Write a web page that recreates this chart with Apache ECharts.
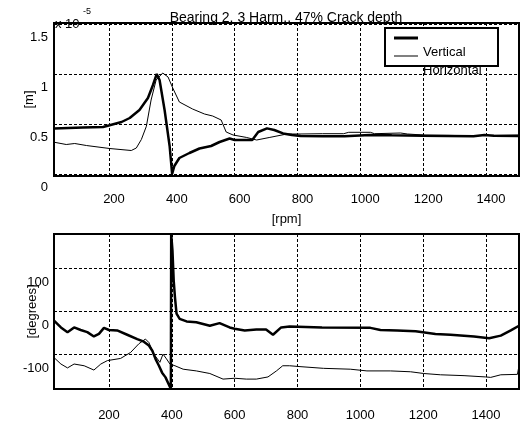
<!DOCTYPE html>
<html>
<head>
<meta charset="utf-8">
<script src="https://cdn.jsdelivr.net/npm/echarts@6/dist/echarts.min.js"></script>
<style>
  html, body { margin: 0; padding: 0; background: #fff; }
  #chart { width: 520px; height: 424px; }
</style>
</head>
<body>
<div id="chart"></div>
<script>
// Tick positions
const rpmTicks = [200, 400, 600, 800, 1000, 1200, 1400];
const ampTicks = [0, 0.5, 1, 1.5];
const phaseTicks = [-100, 0, 100];

// Vertical response amplitude [x 1e-5 m]
const vertAmpRpm = [25, 117, 181, 202, 240, 266, 297, 324, 340, 352, 361, 377, 393, 401, 408, 424, 456, 488, 525, 552, 584, 600, 656, 675, 703, 726, 754, 782, 810, 880, 950, 1030, 1100, 1200, 1360, 1395, 1425, 1505];
const vertAmp = [0.454, 0.465, 0.47, 0.487, 0.52, 0.56, 0.64, 0.76, 0.89, 1.0, 0.94, 0.64, 0.28, 0.0, 0.08, 0.16, 0.21, 0.255, 0.28, 0.32, 0.355, 0.34, 0.34, 0.42, 0.456, 0.44, 0.406, 0.39, 0.38, 0.377, 0.377, 0.39, 0.387, 0.383, 0.377, 0.39, 0.383, 0.38];

// Horizontal response amplitude [x 1e-5 m]
const horAmpRpm = [25, 64, 91, 128, 202, 271, 287, 303, 319, 334, 350, 371, 388, 403, 424, 466, 504, 530, 557, 573, 595, 637, 670, 712, 766, 808, 880, 947, 963, 1032, 1045, 1128, 1150, 1200, 1300, 1400, 1505];
const horAmp = [0.318, 0.295, 0.305, 0.285, 0.255, 0.235, 0.26, 0.345, 0.477, 0.74, 0.94, 1.01, 0.97, 0.86, 0.72, 0.65, 0.6, 0.58, 0.54, 0.42, 0.39, 0.366, 0.34, 0.366, 0.4, 0.4, 0.403, 0.403, 0.417, 0.417, 0.403, 0.41, 0.4, 0.39, 0.385, 0.385, 0.39];

// Vertical response phase [degrees]
const vertPhaseRpm = [25, 47, 68, 89, 110, 131, 152, 168, 184, 200, 226, 258, 290, 311, 327, 338, 348, 359, 369, 380, 390, 397, 398, 402, 406, 410, 415, 425, 447, 478, 521, 552, 584, 600, 632, 669, 700, 722, 748, 775, 878, 1032, 1064, 1117, 1176, 1239, 1287, 1362, 1410, 1447, 1479, 1505];
const vertPhase = [-21, -37, -48, -37, -43, -48, -58, -52, -38, -43, -44, -54, -64, -70, -79, -91, -110, -126, -142, -153, -169, -180, 180, 142, 72, 33, -5, -17, -23, -25, -33, -27, -37, -40, -44, -42, -42, -54, -37, -35, -37, -38, -43, -44, -46, -52, -54, -58, -62, -56, -44, -33];

// Horizontal response phase [degrees]
const horPhaseRpm = [25, 47, 68, 89, 121, 152, 174, 195, 237, 269, 295, 316, 327, 343, 362, 372, 383, 394, 410, 436, 478, 521, 563, 600, 637, 669, 706, 733, 753, 775, 808, 883, 968, 1021, 1096, 1160, 1202, 1255, 1330, 1399, 1415, 1447, 1500, 1505];
const horPhase = [-107, -122, -131, -122, -126, -136, -122, -114, -109, -95, -75, -64, -72, -99, -118, -99, -110, -122, -126, -134, -138, -144, -157, -155, -157, -157, -152, -138, -126, -126, -128, -132, -134, -138, -138, -140, -144, -147, -149, -152, -153, -147, -146, -126];

const zip = (xs, ys) => xs.map((x, i) => [x, ys[i]]);

const FONT = 'Liberation Sans, Arial, Helvetica, sans-serif';
const TXT = { fontFamily: FONT, fontSize: 13, color: '#000' };
const gridLine = { show: true, lineStyle: { color: '#000', width: 1, type: [3, 2] } };

function xAxis(gridIndex, labelOpts, extra) {
  return Object.assign({
    type: 'value', gridIndex, min: 25, max: 1505,
    axisLine: { show: false },
    axisTick: { show: false, customValues: rpmTicks },
    splitLine: gridLine,
    axisLabel: Object.assign({ customValues: rpmTicks, hideOverlap: false }, TXT, labelOpts)
  }, extra || {});
}

// Tick labels hang below their tick: top padding pushes the glyphs down
function yAxis(gridIndex, min, max, ticks, drop, margin, extra) {
  return Object.assign({
    type: 'value', gridIndex, min, max,
    axisLine: { show: false },
    axisTick: { show: false, customValues: ticks },
    splitLine: gridLine,
    nameMoveOverlap: false,
    axisLabel: Object.assign({
      customValues: ticks, margin, hideOverlap: false,
      formatter: v => '{s|' + v + '}',
      rich: { s: Object.assign({ padding: [drop, 0, 0, 0] }, TXT) }
    }, TXT)
  }, extra);
}

function legendEntry(name, top, thickness) {
  return {
    data: [{ name, icon: 'rect' }],
    orient: 'vertical', left: 394, top, padding: 0,
    itemWidth: 24, itemHeight: thickness,
    selectedMode: false,
    formatter: n => '\n' + n,
    textStyle: Object.assign({ lineHeight: 28 }, TXT)
  };
}

const option = {
  backgroundColor: '#fff',
  animation: false,
  title: {
    text: 'Bearing 2, 3 Harm., 47% Crack depth',
    left: 286, top: 11, textAlign: 'center', padding: 0,
    textStyle: { fontFamily: FONT, fontSize: 14, fontWeight: 'normal', color: '#000' }
  },
  legend: [legendEntry('Vertical', 10, 3), legendEntry('Horizontal', 28, 1)],
  graphic: [
    { type: 'rect', z: 3, shape: { x: 385, y: 28, width: 113, height: 38 },
      style: { fill: '#fff', stroke: '#000', lineWidth: 2 } },
    { type: 'text', z: 10, x: 55, y: 18, style: { text: 'x 10', font: '13px ' + FONT, fill: '#000' } },
    { type: 'text', z: 10, x: 83, y: 7, style: { text: '-5', font: '9px ' + FONT, fill: '#000' } }
  ],
  grid: [
    { left: 54, top: 23, width: 465, height: 153, outerBoundsMode: 'none', containLabel: false,
      show: true, borderColor: '#000', borderWidth: 2, backgroundColor: 'transparent' },
    { left: 54, top: 234, width: 465, height: 155, outerBoundsMode: 'none', containLabel: false,
      show: true, borderColor: '#000', borderWidth: 2, backgroundColor: 'transparent' }
  ],
  xAxis: [
    xAxis(0, {
      margin: 17,
      formatter: v => '{p| }' + v,
      rich: { p: { width: 10 } }
    }, {
      name: '[rpm]', nameLocation: 'middle', nameGap: 37, nameMoveOverlap: false, nameTextStyle: TXT
    }),
    xAxis(1, { margin: 20, formatter: v => String(v) })
  ],
  yAxis: [
    yAxis(0, -0.02, 1.51, ampTicks, 26, 6, {
      name: '[m]', nameLocation: 'middle', nameGap: 18, nameTextStyle: TXT
    }),
    yAxis(1, -180, 180, phaseTicks, 28, 5, {
      name: '[degrees]', nameLocation: 'middle', nameGap: 15, nameTextStyle: TXT
    })
  ],
  series: [
    { name: 'Vertical', type: 'line', xAxisIndex: 0, yAxisIndex: 0, symbol: 'none',
      lineStyle: { color: '#000', width: 2.5 }, itemStyle: { color: '#000' }, z: 3,
      data: zip(vertAmpRpm, vertAmp) },
    { name: 'Horizontal', type: 'line', xAxisIndex: 0, yAxisIndex: 0, symbol: 'none',
      lineStyle: { color: '#000', width: 1 }, itemStyle: { color: '#000' }, z: 2,
      data: zip(horAmpRpm, horAmp) },
    { name: 'Vertical', type: 'line', xAxisIndex: 1, yAxisIndex: 1, symbol: 'none',
      lineStyle: { color: '#000', width: 2.5 }, itemStyle: { color: '#000' }, z: 3,
      data: zip(vertPhaseRpm, vertPhase) },
    { name: 'Horizontal', type: 'line', xAxisIndex: 1, yAxisIndex: 1, symbol: 'none',
      lineStyle: { color: '#000', width: 1 }, itemStyle: { color: '#000' }, z: 2,
      data: zip(horPhaseRpm, horPhase) }
  ]
};

const chart = echarts.init(document.getElementById('chart'), null, { renderer: 'canvas' });
chart.setOption(option);
</script>
</body>
</html>
